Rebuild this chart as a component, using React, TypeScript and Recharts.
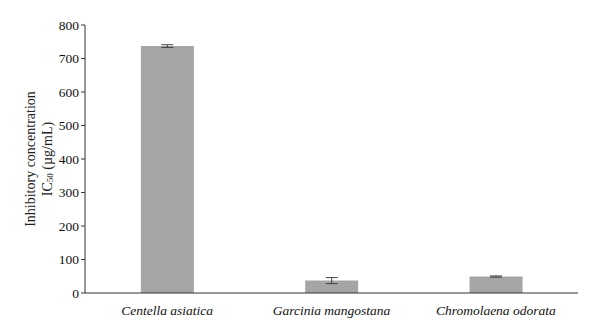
import { Bar, BarChart, ErrorBar, XAxis, YAxis } from "recharts";

const species = ["Centella asiatica", "Garcinia mangostana", "Chromolaena odorata"];
const ic50 = [737, 37, 49];
const sd = [4, 9, 2];
const yTicks = [0, 100, 200, 300, 400, 500, 600, 700, 800];

const data = species.map((name, i) => ({ name, ic50: ic50[i], err: sd[i] }));

const FONT = "'Liberation Serif', 'DejaVu Serif', serif";

function YLabel(props: any) {
  const vb = props.viewBox || { x: 0, y: 0, width: 0, height: 0 };
  const cy = vb.y + vb.height / 2;
  return (
    <g fontFamily={FONT} fontSize={14} fill="#222">
      <text x={30} y={cy} textAnchor="middle" dominantBaseline="central" transform={`rotate(-90 30 ${cy})`}>
        Inhibitory concentration
      </text>
      <text x={47} y={cy} textAnchor="middle" dominantBaseline="central" transform={`rotate(-90 47 ${cy})`}>
        IC<tspan fontSize={9} dy={3}>50</tspan>
        <tspan dy={-3}> (µg/mL)</tspan>
      </text>
    </g>
  );
}

export default function App() {
  return (
    <div style={{ position: "fixed", left: 0, top: 0, background: "#fff" }}>
      <BarChart
        width={600}
        height={331}
        data={data}
        margin={{ top: 25, right: 22, left: 0, bottom: 0 }}
        barCategoryGap="34%"
      >
        <XAxis
          dataKey="name"
          height={38}
          tickLine={false}
          axisLine={{ stroke: "#333" }}
          tick={{ fill: "#111", fontFamily: FONT, fontSize: 13.5, fontStyle: "italic" }}
          tickMargin={6}
        />
        <YAxis
          width={85}
          domain={[0, 800]}
          ticks={yTicks}
          interval={0}
          axisLine={{ stroke: "#333" }}
          tickLine={{ stroke: "#333" }}
          tickSize={4}
          tickMargin={2}
          tick={{ fill: "#111", fontFamily: FONT, fontSize: 13.5 }}
          label={<YLabel />}
        />
        <Bar dataKey="ic50" fill="#a5a5a5" isAnimationActive={false}>
          <ErrorBar dataKey="err" width={6} stroke="#444" strokeWidth={1} isAnimationActive={false} />
        </Bar>
      </BarChart>
    </div>
  );
}
